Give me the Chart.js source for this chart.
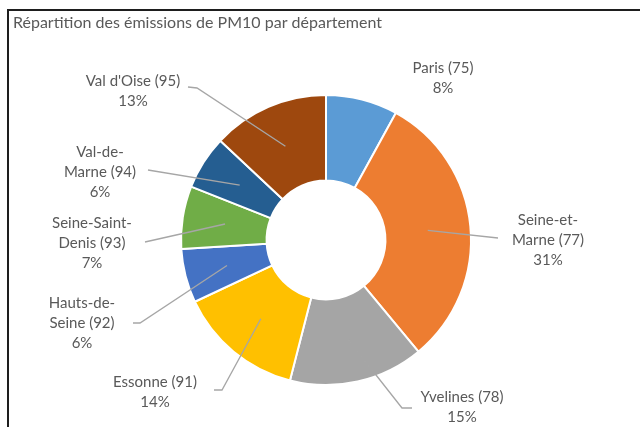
<!DOCTYPE html>
<html>
<head>
<meta charset="utf-8">
<script src="https://cdn.jsdelivr.net/npm/chart.js@4/dist/chart.umd.min.js"></script>
<style>
  html, body { margin: 0; padding: 0; background: #fff; }
  #wrap { width: 640px; height: 427px; position: relative; }
</style>
</head>
<body>
<div id="wrap"><canvas id="c" width="640" height="427"></canvas></div>
<script>
// ---- data ----
const chartTitle = "Répartition des émissions de PM10 par département";
const categories = ["Paris (75)", "Seine-et-Marne (77)", "Yvelines (78)", "Essonne (91)",
                    "Hauts-de-Seine (92)", "Seine-Saint-Denis (93)", "Val-de-Marne (94)", "Val d'Oise (95)"];
const shares = [8, 31, 15, 14, 6, 7, 6, 13];
const colors = ["#5B9BD5", "#ED7D31", "#A5A5A5", "#FFC000", "#4472C4", "#70AD47", "#255E91", "#9E480E"];

// ---- label layout (not data) ----
// break index: where the category name wraps (0 = no wrap)
const wrapAfter = [0, 9, 0, 0, 9, 12, 7, 0];
// text centre x, first line y
const labelPos = [[443, 68], [548, 220], [462, 397], [155, 382], [82, 303], [92, 223], [100, 152], [133, 81]];
// leader line: start point at label side, optional elbow
const leaderStart = [null, [498, 238], [412, 408], [214, 390], [133, 323], [145, 242], [148, 170], [188, 87]];
const leaderElbow = [null, null, [402, 408], [222, 390], [140, 323], null, null, [197, 88]];

const FONT = "Lato, 'Open Sans', sans-serif";
const TEXT = "#595959";

const labelPlugin = {
  id: 'excelLabels',
  afterDatasetsDraw(chart) {
    const ctx = chart.ctx;
    const meta = chart.getDatasetMeta(0);
    const data = chart.data.datasets[0].data;
    const total = data.reduce((a, b) => a + b, 0);
    ctx.save();
    ctx.strokeStyle = "#A6A6A6";
    ctx.lineWidth = 1.3;
    meta.data.forEach((arc, i) => {
      if (!leaderStart[i]) return;
      const p = arc.getCenterPoint();
      ctx.beginPath();
      ctx.moveTo(leaderStart[i][0], leaderStart[i][1]);
      if (leaderElbow[i]) ctx.lineTo(leaderElbow[i][0], leaderElbow[i][1]);
      ctx.lineTo(p.x, p.y);
      ctx.stroke();
    });
    ctx.fillStyle = TEXT;
    ctx.font = "15px " + FONT;
    ctx.textAlign = "center";
    ctx.textBaseline = "middle";
    chart.data.labels.forEach((lab, i) => {
      const lines = wrapAfter[i] ? [lab.slice(0, wrapAfter[i]), lab.slice(wrapAfter[i])] : [lab];
      lines.push(Math.round(data[i] / total * 100) + "%");
      lines.forEach((t, k) => ctx.fillText(t, labelPos[i][0], labelPos[i][1] + k * 20));
    });
    ctx.restore();
  },
  beforeDraw(chart) {
    const ctx = chart.ctx;
    ctx.save();
    ctx.fillStyle = "#fff";
    ctx.fillRect(0, 0, chart.width, chart.height);
    ctx.strokeStyle = "#1e1e1e";
    ctx.lineWidth = 2;
    ctx.beginPath();
    ctx.moveTo(8, 427);
    ctx.lineTo(8, 10);
    ctx.lineTo(640, 10);
    ctx.stroke();
    ctx.fillStyle = TEXT;
    ctx.font = "16px " + FONT;
    ctx.textAlign = "left";
    ctx.textBaseline = "middle";
    ctx.fillText(chartTitle, 13, 23);
    ctx.restore();
  }
};

new Chart(document.getElementById('c'), {
  type: 'doughnut',
  data: {
    labels: categories,
    datasets: [{
      data: shares,
      backgroundColor: colors,
      borderColor: "#ffffff",
      borderWidth: 2,
      hoverOffset: 0,
      offset: 0
    }]
  },
  options: {
    responsive: false,
    animation: false,
    cutout: '41%',
    layout: { padding: { left: 180, right: 168, top: 94, bottom: 41 } },
    plugins: { legend: { display: false }, tooltip: { enabled: false }, title: { display: false } },
    events: []
  },
  plugins: [labelPlugin]
});
</script>
</body>
</html>
